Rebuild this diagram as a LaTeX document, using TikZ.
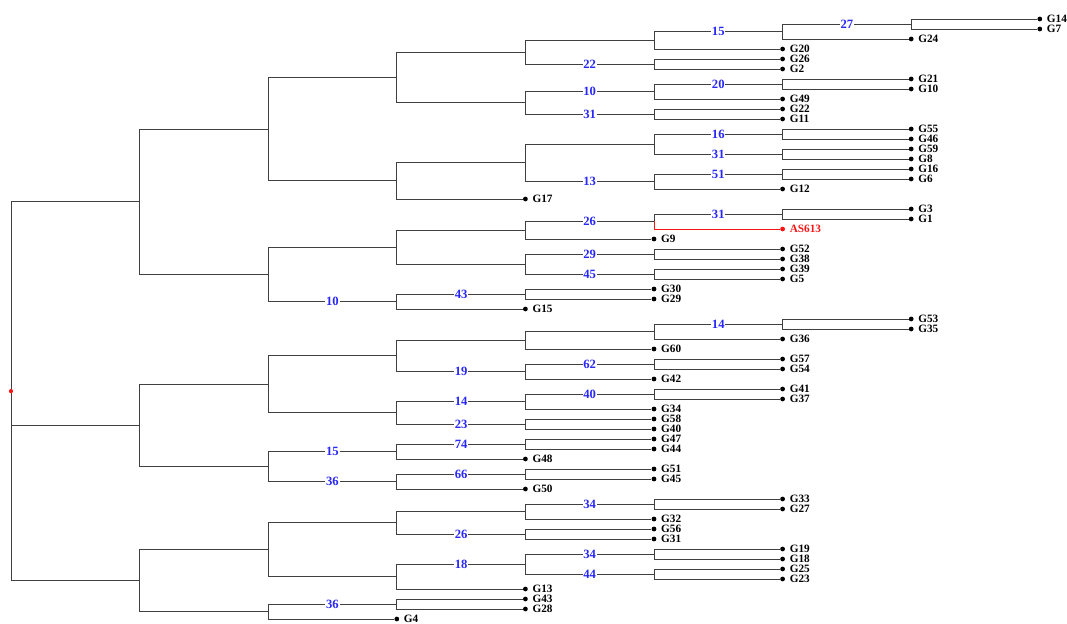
\documentclass[tikz,border=0pt]{standalone}
\usepackage{fontspec}
\setmainfont{Liberation Serif}
\usepackage{tikz}
\definecolor{numblue}{RGB}{40,40,250}
\definecolor{hitred}{RGB}{250,20,20}
\tikzset{
  br/.style={draw=black!75, line width=0.6pt},
  leaf/.style={circle, fill=black, minimum size=3.4pt, inner sep=0pt},
  lbl/.style={font=\fontsize{8}{8}\selectfont\bfseries, inner sep=1pt},
  num/.style={fill=white, text=numblue, inner sep=0.6pt,
              font=\fontsize{9}{9}\selectfont\bfseries},
}
\begin{document}
\begin{tikzpicture}[x=3.215cm, y=-0.25cm, label distance=2pt]
  \useasboundingbox (-0.0855,-1.9) rectangle (8.2115,60.5);
  % leaves: name/level/row
  \foreach \nm/\lv/\rw in {G14/8/0, G7/8/1, G24/7/2, G20/6/3, G26/6/4, G2/6/5,
      G21/7/6, G10/7/7, G49/6/8, G22/6/9, G11/6/10, G55/7/11, G46/7/12,
      G59/7/13, G8/7/14, G16/7/15, G6/7/16, G12/6/17, G17/4/18, G3/7/19,
      G1/7/20, G9/5/22, G52/6/23, G38/6/24, G39/6/25, G5/6/26, G30/5/27,
      G29/5/28, G15/4/29, G53/7/30, G35/7/31, G36/6/32, G60/5/33, G57/6/34,
      G54/6/35, G42/5/36, G41/6/37, G37/6/38, G34/5/39, G58/5/40, G40/5/41,
      G47/5/42, G44/5/43, G48/4/44, G51/5/45, G45/5/46, G50/4/47, G33/6/48,
      G27/6/49, G32/5/50, G56/5/51, G31/5/52, G19/6/53, G18/6/54, G25/6/55,
      G23/6/56, G13/4/57, G43/4/58, G28/4/59, G4/3/60}
    \node[leaf, label={[lbl]right:\nm}] (\nm) at (\lv,\rw) {};
  \node[leaf, fill=hitred, label={[lbl, text=hitred]right:AS613}] (AS613) at (6,21) {};
  % inner nodes
  \foreach \nm/\lv/\rw in {root/0/37.2148, A/1/18.2734, B/1/40.6406, C/1/56.1563,
      A1/2/11.0156, A2/2/25.5313, A1a/3/5.8438, A1b/3/16.1875,
      n1/4/3.3125, n2/4/8.375, n11/5/2.125, n12/5/4.5, n111/6/1.25, n1111/7/0.5,
      n21/5/7.25, n211/6/6.5, n22/5/9.5,
      m1/4/14.375, m11/5/12.5, m111/6/11.5, m112/6/13.5, m12/5/16.25, m121/6/15.5,
      A2a/3/22.8125, A2b/3/28.25, p1/4/21.125, p11/5/20.25, p111/6/19.5,
      p2/4/24.5, p21/5/23.5, p22/5/25.5, q1/4/27.5,
      B1/2/36.5313, B2/2/44.75, B1a/3/33.6875, B1b/3/39.375,
      r1/4/32.125, r11/5/31.25, r111/6/30.5, r2/4/35.25, r21/5/34.5,
      s1/4/38.25, s11/5/37.5, s2/4/40.5,
      B2a/3/43.25, t1/4/42.5, B2b/3/46.25, u1/4/45.5,
      C1/2/53.0625, C2/2/59.25, C1a/3/50.375, C1b/3/55.75,
      v1/4/49.25, v11/5/48.5, v2/4/51.5, w1/4/54.5, w11/5/53.5, w12/5/55.5,
      C2a/3/58.5}
    \coordinate (\nm) at (\lv,\rw);
  % branches
  \foreach \pa/\ch in {root/A, root/B, root/C, A/A1, A/A2, A1/A1a, A1/A1b,
      A1a/n1, A1a/n2, n1/n11, n11/G20, n111/G24, n1111/G14, n1111/G7,
      n12/G26, n12/G2, n21/G49, n211/G21, n211/G10, n22/G22, n22/G11,
      A1b/m1, A1b/G17, m1/m11, m111/G55, m111/G46, m112/G59, m112/G8,
      m12/G12, m121/G16, m121/G6,
      A2/A2a, A2a/p1, A2a/p2, p1/G9, p111/G3, p111/G1, p21/G52, p21/G38,
      p22/G39, p22/G5, A2b/G15, q1/G30, q1/G29,
      B/B1, B/B2, B1/B1a, B1/B1b, B1a/r1, r1/r11, r1/G60, r11/G36,
      r111/G53, r111/G35, r2/G42, r21/G57, r21/G54, s1/G34, s11/G41, s11/G37,
      s2/G58, s2/G40, B2a/G48, t1/G47, t1/G44, B2b/G50, u1/G51, u1/G45,
      C/C1, C/C2, C1/C1a, C1/C1b, C1a/v1, v1/G32, v11/G33, v11/G27,
      v2/G56, v2/G31, C1b/G13, w11/G19, w11/G18, w12/G25, w12/G23,
      C2/G4, C2a/G43, C2a/G28}
    \draw[br] (\pa) |- (\ch);
  \foreach \pa/\ch/\nb in {n11/n111/15, n111/n1111/27, n1/n12/22, n2/n21/10,
      n21/n211/20, n2/n22/31, m11/m111/16, m11/m112/31, m1/m12/13, m12/m121/51,
      p1/p11/26, p11/p111/31, p2/p21/29, p2/p22/45, A2/A2b/10, A2b/q1/43,
      r11/r111/14, B1a/r2/19, r2/r21/62, B1b/s1/14, s1/s11/40, B1b/s2/23,
      B2/B2a/15, B2a/t1/74, B2/B2b/36, B2b/u1/66, v1/v11/34, C1a/v2/26,
      C1b/w1/18, w1/w11/34, w1/w12/44, C2/C2a/36}
    \draw[br] (\pa) |- node[num, pos=0.75] {\nb} (\ch);
  \draw[br, draw=hitred] (p11) |- (AS613);
  \node[leaf, fill=hitred, minimum size=3pt] (rootdot) at (root) {};
\end{tikzpicture}
\end{document}
